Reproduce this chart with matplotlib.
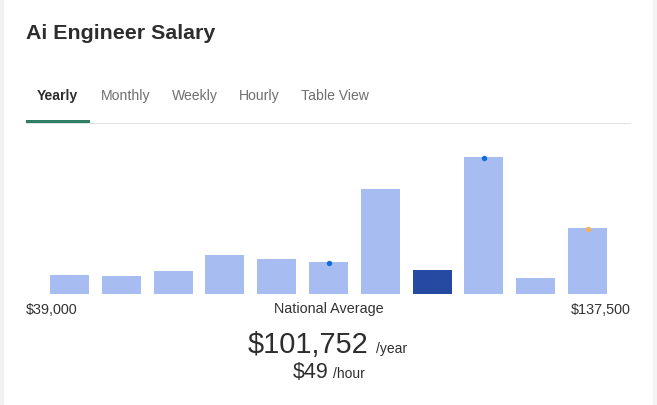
import matplotlib
matplotlib.use("Agg")
import matplotlib.pyplot as plt
from matplotlib.patches import Rectangle

# ---- data ----
bar_heights = [19, 18, 23, 39, 35, 32, 105, 24, 137, 16, 66]
highlight_index = 7
dot_blue_indices = [5, 8]
dot_orange_indices = [10]
tabs = ["Yearly", "Monthly", "Weekly", "Hourly", "Table View"]
tab_x = [37, 101, 172, 239, 301]
title = "Ai Engineer Salary"
min_label = "$39,000"
max_label = "$137,500"
mid_label = "National Average"
avg_year = "$101,752"
avg_hour = "$49"

W, H = 657, 406
fig = plt.figure(figsize=(W / 100, H / 100), dpi=100)
fig.patch.set_facecolor("white")
FONT = "Liberation Sans"

def fx(x):
    return x / W

def fy(y):
    return 1 - y / H

# side borders
fig.patches.append(Rectangle((0, 0), fx(3), 1, transform=fig.transFigure, color="#f2f2f2", zorder=0))
fig.patches.append(Rectangle((fx(653), 0), fx(4), 1, transform=fig.transFigure, color="#f4f4f4", zorder=0))

# title
fig.text(fx(26), fy(33.5), title, fontsize=15.4, fontweight="bold", color="#2d2d2d",
         family=FONT, va="center", ha="left")

# tabs
for i, (t, x) in enumerate(zip(tabs, tab_x)):
    fig.text(fx(x), fy(96), t, fontsize=10.1, family=FONT, va="center", ha="left",
             color="#2d2d2d" if i == 0 else "#6f6f6f",
             fontweight="bold" if i == 0 else "normal")

# divider + active underline
fig.patches.append(Rectangle((fx(26), fy(125)), fx(605), 1 / H, transform=fig.transFigure,
                             color="#e2e2e2", zorder=1, linewidth=0))
fig.patches.append(Rectangle((fx(26), fy(124)), fx(64), 3 / H, transform=fig.transFigure,
                             color="#2e7d64", zorder=2, linewidth=0))

# bar chart
ax = fig.add_axes([fx(30), fy(294.5), fx(600), 154 / H])
x = list(range(len(bar_heights)))
colors = ["#264aa1" if i == highlight_index else "#a7bcf0" for i in x]
ax.bar(x, bar_heights, width=0.755, color=colors, linewidth=0)
ax.scatter([i for i in dot_blue_indices], [bar_heights[i] - 1 for i in dot_blue_indices],
           s=15, color="#0d6ddb", zorder=3, linewidths=0)
ax.scatter([i for i in dot_orange_indices], [bar_heights[i] - 1 for i in dot_orange_indices],
           s=15, color="#f5b15a", zorder=3, linewidths=0)
ax.set_xlim(-0.7625, 10.82)
ax.set_ylim(0, 154)
ax.axis("off")

# axis labels
fig.text(fx(26), fy(309.5), min_label, fontsize=10.4, family=FONT, color="#333333",
         va="center", ha="left")
fig.text(fx(329), fy(309.5), mid_label, fontsize=10.4, family=FONT, color="#333333",
         va="center", ha="center")
fig.text(fx(631), fy(309.5), max_label, fontsize=10.4, family=FONT, color="#333333",
         va="center", ha="right")

# averages
fig.text(fx(368), fy(353), avg_year, fontsize=20.8, family=FONT, color="#2d2d2d",
         va="baseline", ha="right")
fig.text(fx(376), fy(353), "/year", fontsize=10, family=FONT, color="#2d2d2d",
         va="baseline", ha="left")
fig.text(fx(329), fy(378), avg_hour, fontsize=15.5, family=FONT, color="#2d2d2d",
         va="baseline", ha="right")
fig.text(fx(333), fy(378), "/hour", fontsize=10, family=FONT, color="#2d2d2d",
         va="baseline", ha="left")

fig.savefig("out.png", dpi=100, facecolor="white")
